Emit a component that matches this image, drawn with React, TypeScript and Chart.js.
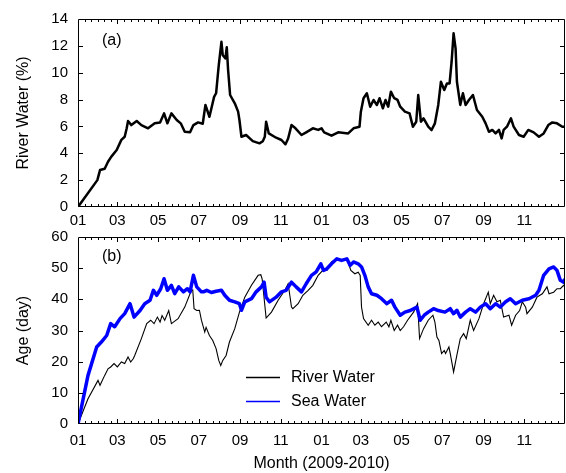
import React, { useEffect, useRef } from "react";
import { Chart, registerables } from "chart.js";

Chart.register(...registerables);

const FONT = "'Liberation Sans', Arial, Helvetica, sans-serif";

// x axis: days since 2009-01-01
const xMaxDay = 730;
const monthTickDays = [0, 59, 120, 181, 243, 304, 365, 424, 485, 546, 608, 669];
const monthTickLabels = ["01", "03", "05", "07", "09", "11", "01", "03", "05", "07", "09", "11"];

// (a) River water fraction (%)
const riverPctDays = [
  0, 29, 33, 40, 45, 50, 58, 65, 70, 73, 75, 80, 88, 95, 105, 115, 123, 129, 134, 140,
  148, 154, 160, 168, 173, 180, 187, 191, 197, 204, 207, 211, 215, 217, 221, 223, 225, 228, 235, 240,
  242, 245, 252, 262, 272, 277, 280, 282, 286, 297, 305, 311, 315, 320, 326, 335, 342, 352, 360, 365,
  369, 380, 390, 405, 413, 422, 424, 428, 433, 438, 443, 448, 452, 457, 461, 465, 469, 474, 479, 483,
  490, 497, 502, 507, 510, 514, 518, 525, 530, 535, 540, 544, 549, 553, 557, 560, 563, 566, 568, 573,
  577, 581, 586, 592, 598, 606, 611, 616, 621, 626, 631, 635, 638, 643, 649, 653, 661, 668, 675, 683,
  691, 698, 705, 711, 718, 726, 730,
];
const riverPctValues = [
  0, 2.0, 2.75, 2.85, 3.37, 3.75, 4.24, 5.0, 5.23, 5.86, 6.4, 6.1, 6.4, 6.1, 5.86, 6.23, 6.3, 6.97, 6.23, 6.97,
  6.48, 6.23, 5.6, 5.56, 6.1, 6.3, 6.2, 7.6, 6.72, 8.2, 8.47, 10.57, 12.3, 11.3, 11.07, 11.9, 10.2, 8.34, 7.72, 7.1,
  6.48, 5.23, 5.36, 4.91, 4.74, 4.9, 5.23, 6.35, 5.48, 5.16, 4.99, 4.67, 5.1, 6.1, 5.86, 5.36, 5.56, 5.86, 5.74, 5.86,
  5.56, 5.31, 5.56, 5.48, 5.86, 5.98, 7.1, 8.1, 8.47, 7.47, 7.97, 7.6, 8.1, 7.35, 7.97, 7.47, 8.59, 8.1, 7.97, 7.47,
  7.1, 6.97, 5.98, 6.35, 8.34, 6.35, 6.6, 5.98, 5.73, 6.23, 7.6, 9.33, 8.71, 9.2, 9.2, 10.8, 12.93, 11.8, 9.33, 7.6,
  8.47, 7.6, 7.97, 8.34, 7.22, 6.72, 6.23, 5.6, 5.74, 5.48, 5.74, 5.11, 5.74, 5.98, 6.6, 5.98, 5.36, 5.23, 5.74, 5.56,
  5.23, 5.48, 6.1, 6.3, 6.23, 5.98, 5.98,
];

// (b) Age of river water (day)
const riverAgeDays = [
  0, 15, 30, 33, 40, 45, 49, 54, 59, 65, 70, 75, 79, 83, 85, 95, 103, 109, 114, 119,
  123, 126, 130, 136, 140, 150, 160, 170, 172, 174, 178, 182, 185, 190, 192, 197, 202, 207, 211, 214,
  217, 222, 227, 235, 242, 250, 260, 270, 274, 276, 282, 290, 300, 310, 315, 320, 322, 330, 337, 345,
  352, 360, 367, 373, 380, 388, 395, 403, 409, 415, 420, 423, 425, 428, 435, 440, 445, 450, 455, 462,
  466, 469, 474, 479, 483, 488, 494, 503, 509, 512, 518, 525, 532, 535, 538, 541, 545, 549, 551, 556,
  558, 563, 568, 573, 578, 582, 588, 593, 601, 608, 615, 618, 623, 628, 633, 638, 646, 650, 656, 662,
  666, 671, 673, 681, 688, 696, 703, 706, 713, 718, 723, 728, 730,
];
const riverAgeValues = [
  0, 8.1, 14, 12.4, 15.6, 17.7, 18.3, 19.4, 18.3, 19.9, 19.4, 21.5, 19.9, 21, 22, 27.4, 32.2, 33.3, 32.2, 34.3,
  32.7, 34.8, 33.3, 36.4, 32.2, 33.8, 37.5, 42.9, 43, 37, 36.4, 36.5, 33.3, 29.5, 31, 28.4, 26.8, 24.2, 20.4, 18.8,
  20.4, 22, 26.3, 30.6, 35.9, 40.7, 44.5, 47.7, 47.9, 46.6, 34, 35.9, 39.7, 42.9, 45, 37.5, 37, 38.6, 41.3, 42.9,
  44.5, 47.7, 49.3, 49.3, 52, 53, 52.5, 53, 49.3, 48.2, 48.7, 47.7, 37.5, 33.8, 31.7, 33.3, 31.7, 32.7, 31.2, 32.7,
  31.2, 33.3, 30, 31.7, 30, 31.2, 33.3, 35.9, 38.6, 27.4, 30.6, 33.3, 34.9, 32.7, 27.9, 26.8, 22.6, 23.6, 22.6, 24.7,
  22.6, 16.7, 22.2, 27.4, 29, 27.4, 33.3, 30, 33.8, 38.6, 42.3, 38.6, 41.3, 39.2, 39.7, 34.3, 34.9, 31.7, 34.9, 36.4,
  39.2, 37.5, 35.4, 37.5, 40.7, 41.8, 44, 41.8, 42.3, 43.4, 43.4, 44.5, 44,
];

// (b) Age of sea water (day)
const seaAgeDays = [
  0, 15, 28, 35, 43, 49, 55, 63, 70, 78, 84, 93, 100, 108, 113, 118, 124, 129, 134, 140,
  145, 151, 158, 164, 168, 173, 178, 185, 188, 193, 200, 207, 215, 220, 227, 235, 242, 245, 250, 260,
  267, 275, 279, 282, 287, 297, 305, 312, 320, 327, 335, 342, 350, 357, 364, 368, 373, 380, 388, 395,
  403, 408, 413, 420, 425, 430, 435, 440, 448, 455, 463, 470, 475, 483, 490, 498, 508, 513, 519, 525,
  533, 540, 550, 558, 563, 568, 573, 581, 588, 596, 603, 611, 618, 626, 633, 641, 648, 656, 666, 676,
  686, 691, 698, 706, 713, 718, 723, 728, 730,
];
const seaAgeValues = [
  0, 15.6, 24.7, 26.3, 28.4, 32.2, 31.2, 33.8, 35.4, 38.6, 34.3, 36.4, 38.6, 39.7, 42.9, 41.3, 43.4, 46.6, 42.9, 44.5,
  41.8, 44, 42.4, 43.4, 42.4, 47.7, 44, 42.4, 42.4, 42.9, 42.2, 42.6, 42.9, 41.3, 39.7, 39.2, 38.6, 36.5, 39.2, 40.2,
  42.4, 44, 45.5, 40.7, 39.2, 40.7, 42.4, 42.9, 45.5, 44, 42.4, 45, 47.7, 48.8, 51.4, 49.3, 49.8, 51.4, 53, 52.5,
  53, 50.9, 52, 51.4, 50.4, 47.7, 44, 41.8, 41.3, 40.2, 38.6, 39.7, 37.5, 34.9, 35.9, 36.4, 37.5, 33.3, 34.9, 35.9,
  37, 36.4, 35.9, 37, 35.4, 36.5, 34.3, 35.9, 37, 35.9, 37.5, 38.6, 37, 38.6, 37.5, 39.2, 40.2, 38.6, 39.7, 40.2,
  41.3, 42.9, 47.7, 49.8, 50.4, 49.3, 46.1, 45.5, 46.6,
];

const RIVER_COLOR = "#000000";
const SEA_COLOR = "#0000ff";
const legendColors = [RIVER_COLOR, SEA_COLOR];

const toPoints = (xs: number[], ys: number[]) => xs.map((x, i) => ({ x, y: ys[i] }));

const framePlugin = {
  id: "frameTicks",
  afterDatasetsDraw(chart: any) {
    const { ctx, chartArea: a, scales } = chart;
    const xs = scales.x;
    const ys = scales.y;
    const L = Math.floor(a.left) + 0.5;
    const R = Math.floor(a.right) - 0.5;
    const T = Math.floor(a.top) + 0.5;
    const B = Math.floor(a.bottom) - 0.5;
    const major = 4.5;
    const minor = 2.5;
    ctx.save();
    ctx.strokeStyle = "#000";
    ctx.lineWidth = 1;
    ctx.beginPath();
    ctx.rect(L, T, R - L, B - T);
    const vTick = (px: number, len: number) => {
      const p = Math.round(px) + 0.5;
      ctx.moveTo(p, B);
      ctx.lineTo(p, B - len);
      ctx.moveTo(p, T);
      ctx.lineTo(p, T + len);
    };
    const bounds = [...monthTickDays, xMaxDay];
    for (let i = 0; i < monthTickDays.length; i++) {
      if (i > 0) vTick(xs.getPixelForValue(monthTickDays[i]), major);
      const a0 = bounds[i];
      const a1 = bounds[i + 1];
      for (let k = 1; k < 6; k++) vTick(xs.getPixelForValue(a0 + ((a1 - a0) * k) / 6), minor);
    }
    ys.ticks.forEach((t: any) => {
      if (t.value <= ys.min || t.value >= ys.max) return;
      const p = Math.round(ys.getPixelForValue(t.value)) + 0.5;
      ctx.moveTo(L, p);
      ctx.lineTo(L + major, p);
      ctx.moveTo(R, p);
      ctx.lineTo(R - major, p);
    });
    ctx.stroke();
    ctx.restore();
  },
};

const panelLabelPlugin = {
  id: "panelLabel",
  afterDraw(chart: any, _args: any, opts: any) {
    if (!opts || !opts.text) return;
    const { ctx, chartArea: a } = chart;
    ctx.save();
    ctx.font = `16px ${FONT}`;
    ctx.fillStyle = "#000";
    ctx.textAlign = "left";
    ctx.textBaseline = "middle";
    ctx.fillText(opts.text, a.left + opts.dx, a.top + opts.dy);
    ctx.restore();
  },
};

const innerLegendPlugin = {
  id: "innerLegend",
  afterDraw(chart: any, _args: any, opts: any) {
    if (!opts || !opts.show) return;
    const { ctx, chartArea: a } = chart;
    ctx.save();
    ctx.font = `16px ${FONT}`;
    ctx.textAlign = "left";
    ctx.textBaseline = "middle";
    chart.data.datasets.forEach((ds: any, i: number) => {
      const y = Math.round(a.top + opts.dy + i * opts.gap) + 0.5;
      const x0 = Math.round(a.left + opts.dx);
      ctx.beginPath();
      ctx.strokeStyle = legendColors[i];
      ctx.lineWidth = 1.4;
      ctx.moveTo(x0, y);
      ctx.lineTo(x0 + opts.lineLen, y);
      ctx.stroke();
      ctx.fillStyle = "#000";
      ctx.fillText(ds.label, x0 + opts.lineLen + opts.textGap, y);
    });
    ctx.restore();
  },
};

function xScale(labelPad: number, height: number, title?: string) {
  return {
    type: "linear",
    min: 0,
    max: xMaxDay,
    grid: { display: false, drawTicks: false },
    border: { display: false },
    afterBuildTicks: (axis: any) => {
      axis.ticks = monthTickDays.map((v) => ({ value: v }));
    },
    afterFit: (s: any) => {
      s.height = height;
    },
    ticks: {
      autoSkip: false,
      maxRotation: 0,
      padding: labelPad,
      color: "#000",
      font: { size: 15, family: FONT },
      callback: (_v: any, i: number) => monthTickLabels[i],
    },
    title: title
      ? { display: true, text: title, color: "#000", font: { size: 16, family: FONT }, padding: { top: 0, bottom: 0 } }
      : { display: false },
  };
}

function yScale(max: number, step: number, title: string) {
  return {
    type: "linear",
    min: 0,
    max,
    grid: { display: false, drawTicks: false },
    border: { display: false },
    afterFit: (s: any) => {
      s.width = 78;
    },
    ticks: { stepSize: step, padding: 10, color: "#000", font: { size: 15, family: FONT } },
    title: { display: true, text: title, color: "#000", font: { size: 16, family: FONT }, padding: { top: 14, bottom: 0 } },
  };
}

export default function App() {
  const topRef = useRef<HTMLCanvasElement>(null);
  const botRef = useRef<HTMLCanvasElement>(null);

  useEffect(() => {
    Chart.defaults.font.family = FONT;
    Chart.defaults.color = "#000";

    const top = new Chart(topRef.current as HTMLCanvasElement, {
      type: "line",
      data: {
        datasets: [
          {
            label: "River Water",
            data: toPoints(riverPctDays, riverPctValues),
            borderColor: RIVER_COLOR,
            borderWidth: 2.5,
            borderJoinStyle: "round",
            pointRadius: 0,
            tension: 0,
          },
        ],
      },
      options: {
        animation: false,
        responsive: true,
        maintainAspectRatio: false,
        layout: { padding: { top: 19, right: 1, left: 0, bottom: 0 } },
        scales: { x: xScale(5, 19) as any, y: yScale(14, 2, "River Water (%)") as any },
        plugins: {
          legend: { display: false },
          tooltip: { enabled: false },
          panelLabel: { text: "(a)", dx: 24, dy: 22 },
        } as any,
      },
      plugins: [framePlugin, panelLabelPlugin],
    });

    const bot = new Chart(botRef.current as HTMLCanvasElement, {
      type: "line",
      data: {
        datasets: [
          {
            label: "River Water",
            data: toPoints(riverAgeDays, riverAgeValues),
            borderColor: RIVER_COLOR,
            borderWidth: 1.1,
            pointRadius: 0,
            tension: 0,
            order: 1,
          },
          {
            label: "Sea Water",
            data: toPoints(seaAgeDays, seaAgeValues),
            borderColor: SEA_COLOR,
            borderWidth: 3.5,
            borderJoinStyle: "round",
            pointRadius: 0,
            tension: 0,
            order: 0,
          },
        ] as any,
      },
      options: {
        animation: false,
        responsive: true,
        maintainAspectRatio: false,
        layout: { padding: { top: 19, right: 1, left: 0, bottom: 0 } },
        scales: { x: xScale(8, 49, "Month (2009-2010)") as any, y: yScale(60, 10, "Age (day)") as any },
        plugins: {
          legend: { display: false },
          tooltip: { enabled: false },
          panelLabel: { text: "(b)", dx: 24, dy: 20 },
          innerLegend: { show: true, dx: 168, dy: 140, gap: 24, lineLen: 34, textGap: 11 },
        } as any,
      },
      plugins: [framePlugin, panelLabelPlugin, innerLegendPlugin],
    });

    return () => {
      top.destroy();
      bot.destroy();
    };
  }, []);

  return (
    <div style={{ position: "absolute", left: 0, top: 0, width: 566, height: 473, background: "#fff" }}>
      <div style={{ position: "absolute", left: 0, top: 0, width: 566, height: 226 }}>
        <canvas ref={topRef} />
      </div>
      <div style={{ position: "absolute", left: 0, top: 218, width: 566, height: 255 }}>
        <canvas ref={botRef} />
      </div>
    </div>
  );
}
